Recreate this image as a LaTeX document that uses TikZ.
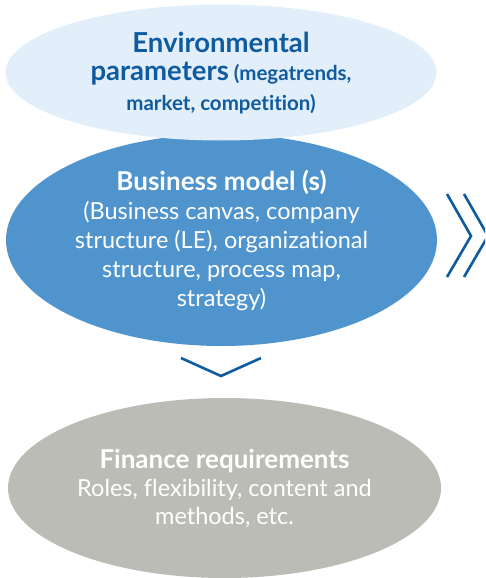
\documentclass[tikz,border=0pt]{standalone}
\usepackage{fontspec}
\setmainfont{Lato}[Ligatures=NoCommon]
\usepackage{tikz}
\usetikzlibrary{shapes.geometric,positioning}
\definecolor{envblue}{HTML}{E2EEF9}
\definecolor{bizblue}{HTML}{5094CE}
\definecolor{fingray}{HTML}{BBBCB6}
\definecolor{darkblue}{HTML}{0F5BA0}
\tikzset{
  bubble/.style={ellipse,inner sep=0pt,align=center,minimum width=431pt},
  chevron/.style={draw=darkblue,line width=2.6pt,miter limit=10}
}

\begin{document}
\begin{tikzpicture}[x=1pt,y=-1pt]
		\useasboundingbox (0,0) rectangle (485,578);
		\clip (0,0) rectangle (485,578);
		% ellipses
		\node[bubble,fill=bizblue,minimum height=212pt,text=white,font=\fontsize{23.5}{29}\selectfont] (biz) at (221.5,240)
			{{\fontsize{26}{29}\selectfont\bfseries Business model (s)}\\(Business canvas, company\\structure (LE), organizational\\structure, process map,\\strategy)};
		\node[bubble,fill=envblue,minimum height=136pt,text=darkblue,font=\bfseries\fontsize{20.5}{29}\selectfont] (env) at (221,72.5)
			{{\fontsize{27.5}{29}\selectfont Environmental}\\{\fontsize{27.5}{29}\selectfont parameters} (megatrends,\\market, competition)};
		\node[bubble,fill=fingray,minimum width=433pt,minimum height=180pt,text=white,font=\fontsize{23.5}{28}\selectfont] (fin) at (224.5,488)
			{{\fontsize{26}{29}\selectfont\bfseries Finance requirements}\\Roles, flexibility, content and\\methods, etc.};
		% chevrons
		\draw[chevron] (447,194) -- (471,236) -- (447,277);
		\draw[chevron] (464,194) -- (488,236) -- (464,277);
		\draw[chevron] (181,358) -- (221,376) -- (261,358);
\end{tikzpicture}
\end{document}
